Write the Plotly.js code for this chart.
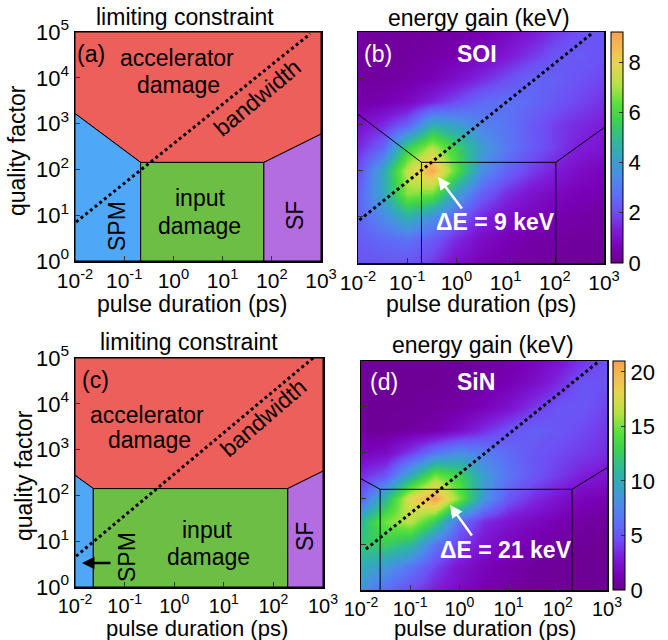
<!DOCTYPE html>
<html>
<head>
<meta charset="utf-8">
<script src="https://cdn.plot.ly/plotly-3.0.1.min.js"></script>
<style>html,body{margin:0;padding:0;background:#fff;}#chart{width:668px;height:640px;}</style>
</head>
<body>
<div id="chart"></div>
<script>
// ---------------- DATA ----------------
const tauLimits = [0.01, 1000];      // pulse duration (ps) axis extent
const qLimits = [1, 1e5];            // quality factor axis extent
const tauTicks = [0.01, 0.1, 1, 10, 100, 1000];
const tauTickLabels = ['10<sup>-2</sup>', '10<sup>-1</sup>', '10<sup>0</sup>', '10<sup>1</sup>', '10<sup>2</sup>', '10<sup>3</sup>'];
const qTicks = [1, 10, 100, 1000, 10000, 100000];
const qTickLabels = ['10<sup>0</sup>', '10<sup>1</sup>', '10<sup>2</sup>', '10<sup>3</sup>', '10<sup>4</sup>', '10<sup>5</sup>'];

// upper boundary of the lower regions: [left edge, SPM|input, input|SF, right edge]
const tauBoundA = [0.01, 0.216, 69, 1000];
const qBoundA   = [1660, 142, 142, 590];
const tauBoundB = [0.01, 0.195, 105, 1000];
const qBoundB   = [1660, 151, 151, 850];
const tauBoundC = [0.01, 0.0234, 195, 1000];
const qBoundC   = [275, 141, 141, 339];
const tauBoundD = [0.01, 0.0245, 195, 1000];
const qBoundD   = [269, 158, 158, 468];

// bandwidth limit (dotted) end points
const bwTauA = [0.0105, 603];  const bwQA = [7.1, 91000];
const bwTauB = [0.0107, 603];  const bwQB = [8.5, 97700];
const bwTauC = [0.0105, 631];  const bwQC = [4.7, 100000];
const bwTauD = [0.0126, 661];  const bwQD = [7.8, 95500];

// heat-map grid: cell edges in log10 units (centres at -2, -1.5, ... 3 and 0, 0.5, ... 5)
const logTauEdges = [-2.25,-1.75,-1.25,-0.75,-0.25,0.25,0.75,1.25,1.75,2.25,2.75,3.25];
const logQEdges   = [-0.25,0.25,0.75,1.25,1.75,2.25,2.75,3.25,3.75,4.25,4.75,5.25];

// energy gain (keV), SOI, rows from Q=10^0 (bottom) to Q=10^5 (top)
const gainSOI = [
  [2.1, 2.2, 2.2, 1.7, 1.0, 0.6, 0.4, 0.3, 0.3, 0.2, 0.2],
  [2.3, 2.6, 2.8, 2.3, 1.5, 0.9, 0.6, 0.4, 0.3, 0.3, 0.3],
  [2.5, 3.4, 4.6, 3.6, 2.4, 1.5, 1.0, 0.7, 0.5, 0.4, 0.3],
  [2.4, 4.2, 6.8, 6.5, 4.0, 2.4, 1.6, 1.1, 0.8, 0.6, 0.5],
  [2.0, 4.2, 7.4, 9.0, 6.2, 3.6, 2.5, 1.8, 1.3, 0.9, 0.7],
  [1.5, 2.4, 5.6, 7.2, 5.6, 4.0, 3.0, 2.3, 1.8, 1.3, 1.1],
  [1.0, 1.5, 2.4, 4.5, 4.0, 3.2, 2.9, 2.3, 1.8, 1.5, 1.3],
  [0.4, 0.5, 0.8, 1.4, 2.0, 2.6, 2.8, 2.6, 2.2, 1.9, 1.6],
  [0.3, 0.3, 0.4, 0.6, 1.0, 1.5, 2.0, 2.5, 2.4, 2.1, 1.9],
  [0.3, 0.3, 0.3, 0.4, 0.5, 0.8, 1.2, 1.7, 2.2, 2.3, 2.1],
  [0.3, 0.3, 0.3, 0.3, 0.4, 0.5, 0.8, 1.2, 1.7, 2.1, 2.2]
];
// energy gain (keV), SiN
const gainSiN = [
  [8.0, 6.0, 4.5, 3.0, 2.0, 1.2, 0.8, 0.6, 0.5, 0.4, 0.4],
  [10.0, 8.5, 6.5, 4.2, 2.5, 1.5, 1.0, 0.6, 0.5, 0.4, 0.4],
  [12.0, 12.5, 11.0, 6.5, 4.0, 2.5, 1.6, 1.0, 0.7, 0.5, 0.4],
  [11.0, 15.0, 16.5, 12.5, 6.0, 3.5, 2.5, 1.8, 1.2, 0.8, 0.6],
  [5.5, 11.0, 18.0, 21.0, 15.0, 8.5, 5.0, 3.5, 2.5, 1.5, 1.2],
  [3.5, 5.0, 10.0, 15.0, 13.0, 9.0, 6.5, 5.0, 4.0, 3.0, 2.5],
  [1.5, 2.0, 4.0, 6.5, 8.0, 7.0, 6.0, 5.0, 4.5, 4.0, 3.5],
  [0.5, 0.5, 0.7, 1.0, 2.0, 3.5, 4.8, 5.5, 5.0, 4.5, 3.8],
  [0.5, 0.5, 0.5, 0.6, 0.9, 1.4, 2.4, 3.8, 5.0, 5.0, 4.2],
  [0.5, 0.5, 0.5, 0.5, 0.6, 0.9, 1.3, 2.2, 3.5, 5.0, 4.8],
  [0.5, 0.5, 0.5, 0.5, 0.5, 0.7, 1.0, 1.5, 2.5, 3.8, 4.8]
];
const cbMaxSOI = 9.2, cbMaxSiN = 21;
const cbTicksSOI = [0, 2, 4, 6, 8];
const cbTicksSiN = [0, 5, 10, 15, 20];

// ---------------- STYLE ----------------
const W = 668, H = 640;
const FONT = 'Liberation Sans, Arial, Helvetica, sans-serif';
const FS = 23;
const COL = {acc: '#ec5f5a', spm: '#4fa8f7', inp: '#6dbe44', sf: '#b46de0'};
const cscale = [
  [0.00, '#680086'], [0.06, '#7800b4'], [0.14, '#7d1ad8'], [0.22, '#6e4ef4'],
  [0.30, '#5c70f6'], [0.38, '#4a8ee6'], [0.46, '#34a6c0'], [0.54, '#30bc90'],
  [0.62, '#3ed24c'], [0.69, '#5ae03c'], [0.77, '#b4e244'], [0.86, '#e6d650'],
  [0.93, '#f2bc52'], [1.00, '#f8a050']
];
const px = x => x / W, py = y => 1 - y / H;
const lg = v => Math.log10(v);

const traces = [];
function regionTraces(tb, qb, xa, ya) {
  const t0 = tauLimits[0], t3 = tauLimits[1], q0 = qLimits[0], q1 = qLimits[1];
  const common = {type: 'scatter', mode: 'lines', fill: 'toself', xaxis: xa, yaxis: ya,
                  line: {color: '#000', width: 1}, hoverinfo: 'skip', showlegend: false};
  traces.push(Object.assign({}, common, {fillcolor: COL.acc,
     x: [t0, t0, t3, t3, tb[2], tb[1], t0], y: [qb[0], q1, q1, qb[3], qb[2], qb[1], qb[0]]}));
  traces.push(Object.assign({}, common, {fillcolor: COL.spm,
     x: [t0, t0, tb[1], tb[1], t0], y: [q0, qb[0], qb[1], q0, q0]}));
  traces.push(Object.assign({}, common, {fillcolor: COL.inp,
     x: [tb[1], tb[1], tb[2], tb[2], tb[1]], y: [q0, qb[1], qb[2], q0, q0]}));
  traces.push(Object.assign({}, common, {fillcolor: COL.sf,
     x: [tb[2], tb[2], t3, t3, tb[2]], y: [q0, qb[2], qb[3], q0, q0]}));
}
function boundaryLines(tb, qb, xa, ya) {
  const q0 = qLimits[0];
  traces.push({type: 'scatter', mode: 'lines', xaxis: xa, yaxis: ya, hoverinfo: 'skip', showlegend: false,
    line: {color: '#000', width: 1},
    x: [tb[0], tb[1], tb[2], tb[3], null, tb[1], tb[1], null, tb[2], tb[2]],
    y: [qb[0], qb[1], qb[2], qb[3], null, q0, qb[1], null, q0, qb[2]]});
}
function bwLine(tx, qy, xa, ya) {
  traces.push({type: 'scatter', mode: 'lines', xaxis: xa, yaxis: ya, hoverinfo: 'skip', showlegend: false,
    line: {color: '#000', width: 3, dash: 'dot'}, x: tx, y: qy});
}
function heat(z, zmax, ticks, xa, ya, cbx, cby, cblen) {
  traces.push({type: 'heatmap', xaxis: xa, yaxis: ya, z: z,
    x: logTauEdges.map(e => Math.pow(10, e)), y: logQEdges.map(e => Math.pow(10, e)),
    zsmooth: 'best', zmin: 0, zmax: zmax, colorscale: cscale, hoverinfo: 'skip',
    colorbar: {x: cbx, xanchor: 'left', xpad: 0, ypad: 0, y: cby, yanchor: 'middle',
      len: cblen, lenmode: 'pixels', thickness: 12, thicknessmode: 'pixels',
      outlinecolor: '#000', outlinewidth: 1, tickvals: ticks, ticks: 'inside', ticklen: 4,
      tickcolor: '#333', tickfont: {family: FONT, size: 22, color: '#000'}}});
}

regionTraces(tauBoundA, qBoundA, 'x', 'y');
bwLine(bwTauA, bwQA, 'x', 'y');
heat(gainSOI, cbMaxSOI, cbTicksSOI, 'x2', 'y2', px(611), py(147.5), 231);
boundaryLines(tauBoundB, qBoundB, 'x2', 'y2');
bwLine(bwTauB, bwQB, 'x2', 'y2');
regionTraces(tauBoundC, qBoundC, 'x3', 'y3');
bwLine(bwTauC, bwQC, 'x3', 'y3');
heat(gainSiN, cbMaxSiN, cbTicksSiN, 'x4', 'y4', px(613), py(475.5), 229);
boundaryLines(tauBoundD, qBoundD, 'x4', 'y4');
bwLine(bwTauD, bwQD, 'x4', 'y4');

function xax(d, anchor, fs) {
  return {domain: d, anchor: anchor, type: 'log', range: [lg(tauLimits[0]), lg(tauLimits[1])],
    tickmode: 'array', tickvals: tauTicks, ticktext: tauTickLabels, tickangle: 0,
    showgrid: false, zeroline: false,
    ticks: 'inside', ticklen: 5, tickcolor: '#333', showline: true, mirror: true,
    linecolor: '#000', linewidth: 1.5, tickfont: {family: FONT, size: fs, color: '#000'}};
}
function yax(d, anchor, labels) {
  return {domain: d, anchor: anchor, type: 'log', range: [lg(qLimits[0]), lg(qLimits[1])],
    tickmode: 'array', tickvals: qTicks, ticktext: qTickLabels,
    showgrid: false, zeroline: false, showticklabels: labels,
    ticks: 'inside', ticklen: 5, tickcolor: '#333', showline: true, mirror: true,
    linecolor: '#000', linewidth: 1.5, tickfont: {family: FONT, size: 22, color: '#000'}};
}

function txt(t, x, y, opts) {
  return Object.assign({text: t, xref: 'paper', yref: 'paper', x: px(x), y: py(y),
    xanchor: 'center', yanchor: 'middle', showarrow: false,
    font: {family: FONT, size: FS, color: '#000'}}, opts || {});
}
const white = {font: {family: FONT, size: FS, color: '#fff'}};
const small = {font: {family: FONT, size: 22, color: '#000'}};
function arrow(hx, hy, ax, ay, color) {
  return {text: '', xref: 'paper', yref: 'paper', x: px(hx), y: py(hy), ax: ax, ay: ay,
    showarrow: true, arrowhead: 2, arrowsize: 1, arrowwidth: 2.5, arrowcolor: color};
}

const annotations = [
  // panel a
  txt('limiting constraint', 185, 17),
  txt('(a)', 91, 54), txt('accelerator', 177, 58), txt('damage', 178, 85),
  txt('bandwidth', 257, 98, {textangle: -40}),
  txt('input', 200, 198), txt('damage', 199, 226),
  txt('SPM', 117, 226, {textangle: -90}), txt('SF', 295, 216, {textangle: -90}),
  txt('quality factor', 17, 151, {textangle: -90}),
  txt('pulse duration (ps)', 193, 304),
  // panel b
  txt('energy gain (keV)', 479, 18),
  txt('(b)', 378, 54, white), txt('<b>SOI</b>', 477, 54, white),
  txt('<b>ΔE = 9 keV</b>', 495, 222, white),
  arrow(438, 177, 25, 33, '#fff'),
  txt('pulse duration (ps)', 481, 304),
  // panel c
  txt('limiting constraint', 189, 342),
  txt('(c)', 95, 380), txt('accelerator', 147, 415), txt('damage', 149, 440),
  txt('bandwidth', 263, 418, {textangle: -41}),
  txt('input', 207, 530), txt('damage', 208, 557),
  txt('SPM', 127, 557, {textangle: -90}), txt('SF', 305, 537, {textangle: -90}),
  arrow(82, 563, 30, 0, '#000'),
  txt('quality factor', 24, 476, {textangle: -90}),
  txt('pulse duration (ps)', 197, 628, small),
  // panel d
  txt('energy gain (keV)', 483, 345),
  txt('(d)', 384, 382, white), txt('<b>SiN</b>', 476, 382, white),
  txt('<b>ΔE = 21 keV</b>', 506, 550, white),
  arrow(450, 505, 23, 32, '#fff'),
  txt('pulse duration (ps)', 485, 628, small)
];

const layout = {
  width: W, height: H, margin: {l: 0, r: 0, t: 0, b: 0},
  paper_bgcolor: '#fff', plot_bgcolor: '#fff', showlegend: false,
  font: {family: FONT, size: FS, color: '#000'},
  xaxis: xax([px(75), px(321)], 'y', 21),   yaxis: yax([py(261), py(32)], 'x', true),
  xaxis2: xax([px(358), px(604)], 'y2', 21), yaxis2: yax([py(263), py(32)], 'x2', false),
  xaxis3: xax([px(75), px(323)], 'y3', 20), yaxis3: yax([py(587), py(358)], 'x3', true),
  xaxis4: xax([px(361), px(607)], 'y4', 20), yaxis4: yax([py(590), py(361)], 'x4', false),
  annotations: annotations
};

Plotly.newPlot('chart', traces, layout, {staticPlot: true, displayModeBar: false});
</script>
</body>
</html>
